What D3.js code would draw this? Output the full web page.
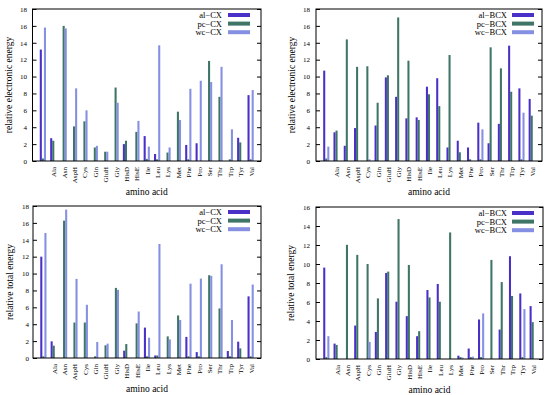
<!DOCTYPE html>
<html><head><meta charset="utf-8">
<script src="https://cdn.jsdelivr.net/npm/d3@7"></script>
<style>
html,body{margin:0;padding:0;background:#fff;}
svg{display:block;font-family:"Liberation Serif","Times New Roman",serif;}
</style></head>
<body>
<svg id="chart" width="550" height="395"></svg>
<script>
// ---- data ----
const aminoLabels = ["", "Ala","Asn","AspH","Cys","Gln","GluH","Gly","HisD","HisE","Ile","Leu","Lys","Met","Phe","Pro","Ser","Thr","Trp","Tyr","Val"];

// relative electronic energy, CX
const elecAlCX = [13.2,2.7,0,0,0,0,0,0,2.0,0,2.95,0.83,0,0,1.9,2.1,0,0,0,2.75,7.8];
const elecPcCX = [0.3,2.4,16.0,4.1,4.7,1.6,1.1,8.7,2.4,3.45,0.25,0.2,1.0,5.84,0.2,0,11.85,7.6,0.2,2.2,0.2];
const elecWcCX = [15.8,0,15.7,8.6,6.0,1.8,1.1,6.9,0,4.75,1.7,13.7,1.6,4.85,8.55,9.5,9.35,11.15,3.75,0,8.4];

// relative electronic energy, BCX
const elecAlBCX = [10.7,3.4,1.8,3.9,0,4.2,9.9,7.6,5.05,5.17,8.8,9.8,1.6,2.4,1.6,4.54,2.1,4.4,13.66,8.6,7.35];
const elecPcBCX = [0.3,3.6,14.4,11.15,11.22,6.9,10.15,17.0,11.88,4.86,7.9,6.5,12.55,1.03,0.2,0.2,13.46,10.97,8.2,0.2,5.37];
const elecWcBCX = [1.7,0,0,0,0.2,0,0,0,0,0,0,0,0,0,0,3.75,0,0,0,5.72,0];

// relative total energy, CX
const totAlCX = [12.0,1.97,0,0,0,0,0,0,0.87,0,3.6,0.3,0,0,2.5,0.7,0,0,0.83,1.93,7.3];
const totPcCX = [0.2,1.46,16.27,4.2,4.2,0.2,1.5,8.3,1.65,4.1,0.2,0.3,2.56,5.04,0.2,0.2,9.8,5.87,0.2,1.14,0.2];
const totWcCX = [14.8,0,17.57,9.37,6.3,1.9,1.7,8.07,0,5.5,2.4,13.5,2.2,4.5,8.8,9.4,9.73,11.1,4.5,0,8.7];

// relative total energy, BCX
const totAlBCX = [9.62,1.62,0,3.52,0,2.85,9.06,6.03,4.51,2.4,7.26,7.9,0,0.35,1.1,4.16,0,3.1,10.82,6.9,5.57];
const totPcBCX = [0.2,1.48,12.02,10.96,10.0,6.38,9.2,14.73,9.9,2.93,6.48,6.03,13.32,0.2,0.2,0.2,10.43,8.1,6.63,0.2,3.88];
const totWcBCX = [2.4,0,0,0,1.8,0,0,0,0,0,0,0,0,0.15,0.25,4.8,0,0,0,5.25,0];

const yTicksTo18 = [0,2,4,6,8,10,12,14,16,18];
const yTicksTo16 = [0,2,4,6,8,10,12,14,16];

// ---- styling / layout ----
const colors = ["#4b30c8", "#3f7566", "#8690e2"];
const svg = d3.select("#chart");

const panels = [
  {x0:32.5,x1:261,y0:9,y1:161,ymax:18,ticks:yTicksTo18,ylabel:"relative electronic energy",
   names:["al\u2212CX","pc\u2212CX","wc\u2212CX"],series:[elecAlCX,elecPcCX,elecWcCX],
   ylabX:9, tickLabX:27, legTextX:222, legKeyX:228, legY:15},
  {x0:316,x1:542,y0:9,y1:161,ymax:18,ticks:yTicksTo18,ylabel:"relative electronic energy",
   names:["al\u2212BCX","pc\u2212BCX","wc\u2212BCX"],series:[elecAlBCX,elecPcBCX,elecWcBCX],
   ylabX:292, tickLabX:310, legTextX:507, legKeyX:512, legY:15},
  {x0:33,x1:261,y0:206,y1:358,ymax:18,ticks:yTicksTo18,ylabel:"relative total energy",
   names:["al\u2212CX","pc\u2212CX","wc\u2212CX"],series:[totAlCX,totPcCX,totWcCX],
   ylabX:10, tickLabX:29, legTextX:222, legKeyX:228, legY:212},
  {x0:316,x1:543,y0:207,y1:359,ymax:16,ticks:yTicksTo16,ylabel:"relative total energy",
   names:["al\u2212BCX","pc\u2212BCX","wc\u2212BCX"],series:[totAlBCX,totPcBCX,totWcBCX],
   ylabX:291, tickLabX:310, legTextX:507, legKeyX:512, legY:213}
];

panels.forEach(p => {
  const g = svg.append("g");
  const x = d3.scaleLinear().domain([-1, aminoLabels.length]).range([p.x0, p.x1]);
  const y = d3.scaleLinear().domain([0, p.ymax]).range([p.y1, p.y0]);
  const bw = x(0.2) - x(0);

  // bars
  p.series.forEach((vals, si) => {
    g.append("g").selectAll("rect").data(vals).join("rect")
      .attr("x", (d,i) => x(i + (si-1)*0.2) - bw/2)
      .attr("width", bw)
      .attr("y", d => y(d))
      .attr("height", d => Math.max(0, y(0) - y(d)))
      .attr("fill", colors[si]);
  });

  // y axis left
  const yl = g.append("g").attr("transform", `translate(${p.x0},0)`)
    .call(d3.axisLeft(y).tickValues(p.ticks).tickSize(-4).tickPadding(5).tickFormat(d3.format("d")));
  yl.select(".domain").remove();
  yl.selectAll("text").attr("font-size", 7).attr("font-family","Liberation Serif").attr("fill","#000")
    .attr("x", -(p.x0 - p.tickLabX));
  // y axis right (mirror)
  const yr = g.append("g").attr("transform", `translate(${p.x1},0)`)
    .call(d3.axisRight(y).tickValues(p.ticks).tickSize(-4).tickFormat(""));
  yr.select(".domain").remove();

  // x tick labels
  const xa = g.append("g").attr("transform", `translate(0,${p.y1})`)
    .call(d3.axisBottom(x).tickValues(d3.range(aminoLabels.length)).tickSize(0).tickFormat(i => aminoLabels[i]));
  xa.select(".domain").remove();
  xa.selectAll("text").attr("font-size", 7).attr("font-family","Liberation Serif").attr("fill","#000")
    .attr("text-anchor","end").attr("transform","rotate(-90)")
    .attr("x", -6).attr("y", 0).attr("dy","0.35em");

  // frame
  g.append("rect").attr("x", p.x0).attr("y", p.y0).attr("width", p.x1-p.x0).attr("height", p.y1-p.y0)
    .attr("fill","none").attr("stroke","#000").attr("stroke-width",1);

  // axis titles
  g.append("text").attr("x", (p.x0+p.x1)/2).attr("y", p.y1 + 34).attr("text-anchor","middle")
    .attr("font-size", 9.5).text("amino acid");
  g.append("text").attr("transform", `translate(${p.ylabX},${(p.y0+p.y1)/2}) rotate(-90)`)
    .attr("text-anchor","middle").attr("dy","0.35em").attr("font-size", 9.5).text(p.ylabel);

  // legend
  p.names.forEach((n, si) => {
    const ly = p.legY + si*8.6;
    g.append("text").attr("x", p.legTextX).attr("y", ly).attr("dy","0.35em")
      .attr("text-anchor","end").attr("font-size", 8.5).text(n);
    g.append("rect").attr("x", p.legKeyX).attr("y", ly-2).attr("width", 22).attr("height", 4)
      .attr("fill", colors[si]);
  });
});
</script>
</body></html>
